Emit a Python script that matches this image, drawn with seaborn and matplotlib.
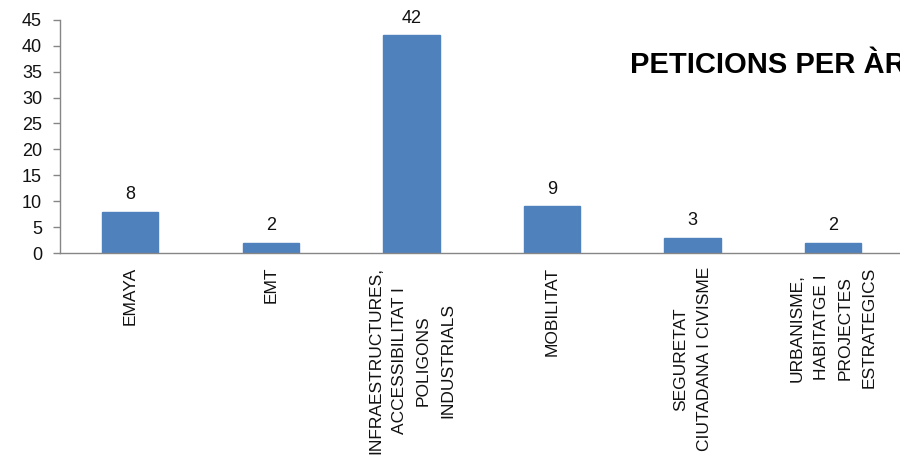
import matplotlib
matplotlib.use("Agg")
import matplotlib.pyplot as plt
import numpy as np
import pandas as pd
import seaborn as sns

categories = ["EMAYA", "EMT",
              "INFRAESTRUCTURES,\nACCESSIBILITAT I\nPOLIGONS\nINDUSTRIALS",
              "MOBILITAT",
              "SEGURETAT\nCIUTADANA I CIVISME",
              "URBANISME,\nHABITATGE I\nPROJECTES\nESTRATEGICS"]
peticions = [8, 2, 42, 9, 3, 2]
y_ticks = [0, 5, 10, 15, 20, 25, 30, 35, 40, 45]
title = "PETICIONS PER ÀREA"

sns.set_style("white")
plt.rcParams['font.family'] = ['Liberation Sans Narrow', 'Liberation Sans', 'DejaVu Sans']
plt.rcParams['text.color'] = 'black'

df = pd.DataFrame({"area": categories, "n": peticions})

fig = plt.figure(figsize=(9, 4.61), dpi=100)
ax = fig.add_axes([0.0667, 0.451, 0.937, 0.506])

sns.barplot(ax=ax, data=df, x="area", y="n", color='#4F81BD', saturation=1,
            width=0.4, edgecolor='#4F81BD')
ax.bar_label(ax.containers[0], fontsize=13, padding=6, color='#111111',
             family=['Liberation Sans', 'DejaVu Sans'])

ax.set_ylim(0, 45)
ax.set_xlim(-0.5, len(categories) - 0.5)
ax.set_yticks(y_ticks)
ax.set_yticklabels([str(t) for t in y_ticks], fontsize=13,
                   family=['Liberation Sans', 'DejaVu Sans'], color='#111111')
ax.set_xticks(range(len(categories)))
ax.set_xticklabels(categories, rotation=90, fontsize=12.5, ha='center', va='top',
                   multialignment='center', linespacing=1.75, color='#111111')
ax.set_xticks(np.arange(-0.5, len(categories), 1), minor=True)
ax.tick_params(axis='x', which='major', length=0, pad=10)
ax.tick_params(axis='x', which='minor', length=6, color='#868686', width=1, direction='out')
ax.tick_params(axis='y', length=5, color='#868686', width=1, direction='out', left=True, pad=8)
ax.set_xlabel('')
ax.set_ylabel('')

for s in ['top', 'right']:
    ax.spines[s].set_visible(False)
for s in ['left', 'bottom']:
    ax.spines[s].set_color('#868686')
    ax.spines[s].set_linewidth(1)

fig.text(0.70, 0.86, title, fontsize=21, fontweight='bold', ha='left', va='center',
         color='black', family=['Liberation Sans', 'DejaVu Sans'])

fig.savefig('out.png', dpi=100)
